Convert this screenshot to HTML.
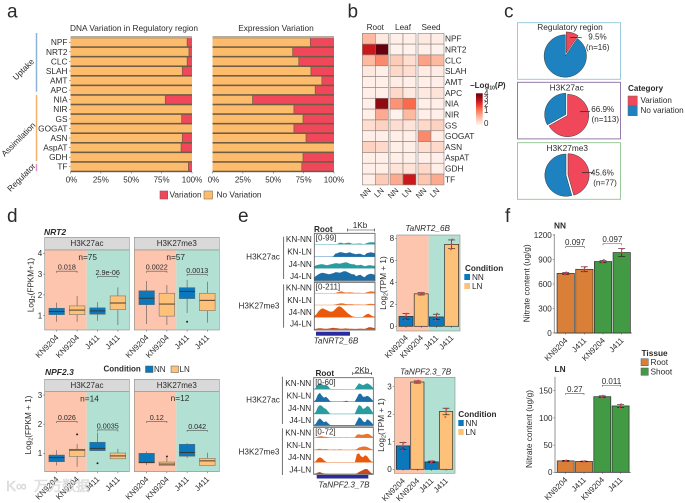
<!DOCTYPE html>
<html lang="en">
<head>
<meta charset="utf-8">
<title>Nitrate gene variation figure</title>
<style>
html,body{margin:0;padding:0;background:#fff;width:685px;height:503px;overflow:hidden}
svg{display:block;font-family:"Liberation Sans","Noto Sans CJK SC",sans-serif;filter:blur(.3px)}
text{fill:#2b2b2b}
</style>
</head>
<body>
<svg id="fig" width="685" height="503" viewBox="0 0 685 503" xmlns="http://www.w3.org/2000/svg">
<defs>
<linearGradient id="cbar" x1="0" y1="1" x2="0" y2="0">
<stop offset="0" stop-color="#fff5f0"/><stop offset=".25" stop-color="#fcbba1"/><stop offset=".5" stop-color="#fb6a4a"/><stop offset=".75" stop-color="#cb181d"/><stop offset="1" stop-color="#67000d"/>
</linearGradient>
</defs>
<g font-size="19">
<text x="7" y="17.5">a</text>
<text x="347.5" y="17.5">b</text>
<text x="504" y="17.5">c</text>
<text x="7" y="222">d</text>
<text x="238" y="222">e</text>
<text x="505" y="222">f</text>
</g>
<g font-size="8.3">
<text x="134" y="31" text-anchor="middle">DNA Variation in Regulatory region</text>
<text x="276" y="31" text-anchor="middle">Expression Variation</text>
<line x1="36.5" y1="33" x2="36.5" y2="91.7" stroke="#8fb3d9" stroke-width="1.5"/>
<line x1="36.5" y1="95" x2="36.5" y2="161" stroke="#f5b06a" stroke-width="1.5"/>
<line x1="36.5" y1="164" x2="36.5" y2="171.3" stroke="#e88fc8" stroke-width="1.5"/>
<text transform="rotate(-45 24 70)" x="24" y="72" text-anchor="middle">Uptake</text>
<text transform="rotate(-45 19 140)" x="19" y="142" text-anchor="middle">Assimilation</text>
<text transform="rotate(-45 22 178)" x="22" y="180" text-anchor="middle">Regulator</text>
<rect x="160" y="191" width="7.7" height="8" fill="#f0485a" stroke="#8a5a50" stroke-width=".6"/>
<text x="169.5" y="197.5">Variation</text>
<rect x="204" y="191" width="8.5" height="8" fill="#fdbb6c" stroke="#8a7050" stroke-width=".6"/>
<text x="216.5" y="197.5">No Variation</text>
</g>
<g>
<text x="470" y="88" font-size="8" font-weight="bold">−Log<tspan font-size="5" dy="1.5">10</tspan><tspan dy="-1.5">(</tspan><tspan font-style="italic">P</tspan>)</text>
<rect x="476" y="93.3" width="6.7" height="31.7" fill="url(#cbar)"/>
</g>
<g font-size="8.1">
<text x="628" y="91" font-weight="bold">Category</text>
<rect x="628" y="96" width="9.3" height="9.7" fill="#f0485a" stroke="#666" stroke-width=".5"/>
<rect x="628" y="106" width="9.3" height="9.7" fill="#1f82c0" stroke="#666" stroke-width=".5"/>
<text x="640.5" y="103">Variation</text>
<text x="640.5" y="113">No variation</text>
</g>
<g>
<text x="44" y="235" font-size="8.5" font-weight="bold" font-style="italic">NRT2</text>
<text x="45" y="375" font-size="8.5" font-weight="bold" font-style="italic">NPF2.3</text>
<text transform="rotate(-90 33.5 285)" x="33.5" y="285" font-size="8.2" text-anchor="middle">Log<tspan font-size="5.5" dy="1.5">2</tspan><tspan dy="-1.5">(FPKM+1)</tspan></text>
<text transform="rotate(-90 31 425)" x="31" y="425" font-size="8.2" text-anchor="middle">Log<tspan font-size="5.5" dy="1.5">2</tspan><tspan dy="-1.5">(FPKM + 1)</tspan></text>
<text x="103.5" y="371.5" font-size="8" font-weight="bold">Condition</text>
<rect x="145.5" y="366" width="7.5" height="6.5" fill="#0b78bd" stroke="#555" stroke-width=".5"/>
<text x="154" y="371.8" font-size="8">NN</text>
<rect x="171" y="366" width="7.5" height="6.5" fill="#fdc17a" stroke="#555" stroke-width=".5"/>
<text x="179.5" y="371.8" font-size="8">LN</text>
</g>
<g font-size="8.2">
<text x="314" y="232" font-weight="bold">Root</text>
<path d="M347.3 228.5v3M347.3 230H374.7M374.7 228.5v3" stroke="#333" fill="none" stroke-width=".6"/>
<text x="360" y="228" text-anchor="middle">1Kb</text>
<line x1="283.7" y1="236.7" x2="283.7" y2="279" stroke="#333" stroke-width=".7"/>
<line x1="283.7" y1="284.3" x2="283.7" y2="327.7" stroke="#333" stroke-width=".7"/>
<text x="263" y="259.5" text-anchor="middle">H3K27ac</text>
<text x="259" y="308.5" text-anchor="middle">H3K27me3</text>
<rect x="316" y="331.7" width="34" height="4" fill="#2b2b9c"/>
<text x="336" y="343.5" text-anchor="middle" font-style="italic">TaNRT2_6B</text>
<text x="427.7" y="231" text-anchor="middle" font-style="italic">TaNRT2_6B</text>
<text transform="rotate(-90 386 283)" x="386" y="283" text-anchor="middle">Log<tspan font-size="5.5" dy="1.5">2</tspan><tspan dy="-1.5">(TPM + 1)</tspan></text>
<text x="465" y="271" font-weight="bold">Condition</text>
<rect x="464.3" y="274" width="5.7" height="6" fill="#0b78bd"/>
<rect x="464.3" y="283" width="5.7" height="6" fill="#fdc17a"/>
<text x="472" y="280">NN</text>
<text x="472" y="289">LN</text>
<text x="315.5" y="376" font-weight="bold">Root</text>
<path d="M352.7 372v3M352.7 373.5H371.7M371.7 372v3" stroke="#333" fill="none" stroke-width=".6"/>
<text x="362" y="373" text-anchor="middle">2Kb</text>
<line x1="282.3" y1="376.7" x2="282.3" y2="424" stroke="#333" stroke-width=".7"/>
<line x1="282.3" y1="428.3" x2="282.3" y2="475" stroke="#333" stroke-width=".7"/>
<text x="263" y="402.5" text-anchor="middle">H3K27ac</text>
<text x="259" y="454.5" text-anchor="middle">H3K27me3</text>
<rect x="316.7" y="475" width="51.6" height="3.5" fill="#2b2b9c"/>
<text x="344" y="487.5" text-anchor="middle" font-style="italic">TaNPF2.3_7B</text>
<text x="425.7" y="374.5" text-anchor="middle" font-style="italic">TaNPF2.3_7B</text>
<text transform="rotate(-90 384 425)" x="384" y="425" text-anchor="middle">Log<tspan font-size="5.5" dy="1.5">2</tspan><tspan dy="-1.5">(TPM + 1)</tspan></text>
<text x="458.3" y="417" font-weight="bold">Condition</text>
<rect x="458.3" y="420" width="5.4" height="6" fill="#0b78bd"/>
<rect x="458.3" y="429" width="5.4" height="6" fill="#fdc17a"/>
<text x="465.5" y="426">NN</text>
<text x="465.5" y="435">LN</text>
</g>
<g font-size="8.3">
<text x="554" y="228.5" font-weight="bold">NN</text>
<text x="554.5" y="372" font-weight="bold">LN</text>
<text transform="rotate(-90 529.5 283.3)" x="529.5" y="283.3" text-anchor="middle">Nitrate content (ug/g)</text>
<text transform="rotate(-90 532 429)" x="532" y="429" text-anchor="middle">Nitrate content (ug/g)</text>
<text x="641.5" y="356" font-weight="bold">Tissue</text>
<rect x="641" y="358.7" width="7.3" height="7" fill="#d97f37" stroke="#555" stroke-width=".5"/>
<rect x="641" y="368" width="7.3" height="7.3" fill="#429b44" stroke="#555" stroke-width=".5"/>
<text x="650.5" y="364.8">Root</text>
<text x="650.5" y="374.3">Shoot</text>
</g>
<g id="charts"></g>
<g opacity=".7">
<text x="6" y="491" font-size="15" style="fill:#ddd;stroke:#aaa;stroke-width:.3">K∞</text>
<text x="34" y="491" font-size="14" style="fill:#e4e4e4;stroke:#aaa;stroke-width:.3">万方数据</text>
</g>
</svg>
<script>
/* ---------- panel a ---------- */
const genes = ['NPF','NRT2','CLC','SLAH','AMT','APC','NIA','NIR','GS','GOGAT','ASN','AspAT','GDH','TF'];
const pctTicks = ['0%','25%','50%','75%','100%'];
const dnaVariation = [4,2.5,4,8,0,0,22,0,8.5,0,8,9,0,3];
const exprVariation = [19.5,34,29,19,10,15.5,67,33,25.5,33,23,0,25.5,26.5];

/* ---------- panel b ---------- */
const facets = ['Root','Leaf','Seed'];
const conditionsShort = ['NN','LN'];
const colorbarTicks = [4,3,2,1,0];
const colorbarTickPos = [4,3.35,2.65,1.85,0.25];
const heatRoot = [[1,.2],[3,4],[1,1.6],[.2,.1],[.1,.1],[.1,.1],[.1,3.6],[.1,1.2],[.4,.6],[.1,.1],[.6,.5],[.1,.1],[.1,.1],[.1,.7]];
const heatLeaf = [[.1,.1],[.05,.05],[.7,.4],[.5,.4],[.15,.1],[.5,.2],[1.5,2],[.05,1],[.4,.3],[.1,.1],[.1,.1],[.1,.1],[.3,.3],[1.2,3]];
const heatSeed = [[.2,.15],[.1,.05],[1.3,1],[.15,.15],[.1,.1],[.2,.3],[.1,.1],[.1,.1],[.5,.6],[1.6,.1],[.4,.5],[.1,.1],[.5,.1],[.8,1.2]];

/* ---------- panel c ---------- */
const pieTitles = ['Regulatory region','H3K27ac','H3K27me3'];
const pieVariationPct = [9.5,66.9,45.6];
const pieCounts = [16,113,77];

/* ---------- panel d : [whiskerLow, q1, median, q3, whiskerHigh, outliers] ---------- */
const boxLabels = ['KN9204','KN9204','J411','J411'];
const nrt2Ticks = [1,2,3,4];
const npfTicks = [1,2,3];
const boxNrt2Ac = [[.71,1.05,1.2,1.36,1.62,[]],[.71,1.05,1.27,1.47,1.95,[]],[.75,1.07,1.23,1.38,1.65,[]],[.55,1.29,1.61,1.95,2.36,[]]];
const boxNrt2Me = [[.6,1.53,1.84,2.2,2.67,[]],[.55,.98,1.56,2.08,2.47,[]],[1.13,1.82,2.17,2.35,2.72,[.71]],[.66,1.24,1.74,2.08,2.63,[]]];
const boxNpfAc = [[.58,.71,.85,.94,1.11,[]],[.54,.89,1.11,1.14,1.32,[1.65]],[1.09,1.09,1.17,1.38,1.71,[.66]],[.81,.81,.91,1.01,1.15,[]]];
const boxNpfMe = [[.6,.67,.69,1,1.06,[]],[.58,.58,.63,.7,.83,[.89]],[.84,.9,1.03,1.31,1.35,[]],[.58,.58,.74,.83,1.02,[]]];
const pNrt2Ac = [['0.018',0,1,3.14],['2.9e-06',2,3,2.88]];
const pNrt2Me = [['0.0022',0,1,3.14],['0.0013',2,3,2.98]];
const pNpfAc = [['0.026',0,1,2.09],['0.0035',2,3,1.8]];
const pNpfMe = [['0.12',0,1,2.09],['0.042',2,3,1.79]];

/* ---------- panel e ---------- */
const trackNames = ['KN-NN','KN-LN','J4-NN','J4-LN'];
const upAc = [
[0,0,0,0,0,0,0,0,0,0,0,.3,1.5,1.5,.8,1.2,1.5,1.5,.6,.5,.5,.8,.8,.4,.3,1.2,1.8,2,2,1.6],
[0,0,0,0,0,0,0,0,0,.2,3,3.5,4.5,4.5,4,3.5,4,4.5,3.5,3,2.5,3,3,2,1.5,3.5,4,4.5,4,3.5],
[2,3,3.5,4,4,3.5,3,3.5,4,4.5,5,5,4.5,5,5.5,6,5.5,4.5,4,4,3,3,3.5,3,2,2.5,3,3,2.5,2.5],
[3,4.5,6,7,7.5,7,6.5,6,6.5,7,8,8,7.5,8,9,9,8,7,6,6,4,5,5.5,4,3,5,6,6.5,6,5.5]];
const upMe = [
[0,0,0,0,0,0,0,0,0,0,.2,1,1.5,2,1.2,.8,.8,1,.8,.5,.4,.5,.4,.3,.3,1,1.5,2,1.8,1.5],
[0,0,0,0,0,0,0,0,0,0,.5,1,1.5,1.8,1.5,1,.8,.8,.7,.5,.4,.5,.4,.3,.3,.6,1,1.2,1,.8],
[1,3,6,8,9,8,7,6,5.5,6,8,10,11,10,8,6,4,2.5,1,.5,.3,.3,.3,.3,1.5,3,3.5,2,1,.5],
[.3,.5,1,1,.8,.6,.5,.8,1.2,1.5,1.2,1,.7,.6,.7,.9,.7,.5,.5,.4,.4,.5,.7,.5,.4,1,2,2,1.5,1]];
const lowAc = [
[0,1.5,5,6,5,4,4.5,3,.5,.2,.2,.2,.3,.2,.2,.2,.2,.2,.2,.2,.2,3,6,5,4,5,6,5,3.5,1],
[0,2,7,9,6,4,5,3,.5,.2,.2,.2,.2,.2,.2,.5,1,.2,.2,.2,.2,4,8,8,5,5,6,5,3,.5],
[0,2,7,9,8,6,5,2.5,.3,.1,.1,.1,.1,.1,.1,.1,.1,.1,.1,.2,.2,5,9,8,5,6,8,7,4,.5],
[0,1.5,5,7,5,3,4,2,.3,.1,.1,.1,.2,.1,.1,.1,.1,.1,.1,.1,.2,4,8,7,4,3,6,5,3,.5]];
const lowMe = [
[0,.3,1,1.5,1.5,1,.8,.5,.3,.2,.3,.2,.2,.3,.2,.2,.3,.2,.2,.2,.3,3,3.5,3,3,3.5,4,3.5,2,.5],
[0,.5,1,1.2,.8,.8,1,.5,.3,.2,.6,.3,.5,.8,.2,.2,.2,.2,.2,.2,.2,1,2.5,3,3.5,3.5,3,2,1,.3],
[0,1,4,5,4,2,.5,.2,.1,.1,.1,.1,.1,.1,.1,.1,.1,.1,.1,.1,.1,8,9,6,5,7,6,3,1,.2],
[0,.5,1.5,2,1,.5,.2,.1,.1,.1,.1,.1,.1,.1,.1,.1,.1,.1,.1,.1,.1,.5,2,3,4,5,5,3,1,.2]];
const tpmNrtValues = [.9,2.95,.85,7.45];
const tpmNrtErr = [.25,.1,.25,.4];
const tpmNrtPoints = [[.6,.9,1.15],[2.85,2.95,3.05],[.55,.85,1.15],[7,7.45,7.9]];
const tpmNrtTicks = [0,2,4,6,8];
const tpmNpfValues = [.85,3.17,.27,2.1];
const tpmNpfErr = [.12,.04,.03,.12];
const tpmNpfPoints = [[.7,.85,.97],[3.13,3.17,3.22],[.25,.27,.3],[1.9,2.1,2.2]];
const tpmNpfTicks = [0,1,2,3];

/* ---------- panel f ---------- */
const nitrateLabels = ['KN9204','J411','KN9204','J411'];
const nitrateNN = [730,780,875,985];
const nitrateNNErr = [12,30,15,50];
const nitrateNNPoints = [[715,730,742],[755,780,810],[860,875,895],[925,985,1030]];
const nitrateNNTicks = [0,300,600,900,1200];
const nitrateLN = [21,20,139,122];
const nitrateLNErr = [1,.7,1.5,3];
const nitrateLNPoints = [[20,21,22],[19.5,20,20.5],[137,139,141],[118,122,125]];
const nitrateLNTicks = [0,50,100,150];
const pNitrateNN = [['0.097',0,1,1057],['0.097',2,3,1093]];
const pNitrateLN = [['0.27',0,1,145],['0.011',2,3,160]];

/* ---------- helpers ---------- */
const SVG_NS = 'http://www.w3.org/2000/svg';
const charts = document.getElementById('charts');
function mk(tag, attrs, parent) {
  const el = document.createElementNS(SVG_NS, tag);
  for (const k in attrs) el.setAttribute(k, attrs[k]);
  (parent || charts).appendChild(el);
  return el;
}
function grp(name) {
  const el = mk('g', {});
  
  
  return el;
}
function txt(parent, name, x, y, s, size, anchor, rot) {
  const el = mk('text', {x: x, y: y, 'font-size': size, 'text-anchor': anchor || 'start'}, parent);
  if (rot) el.setAttribute('transform', 'rotate(' + rot + ' ' + x + ' ' + y + ')');
  
  
  el.textContent = s;
  return el;
}
function rect(parent, name, x, y, w, h, fill, stroke, sw) {
  const el = mk('rect', {x: x, y: y, width: Math.max(w, 0), height: Math.max(h, 0), fill: fill, stroke: stroke || 'none', 'stroke-width': sw || 0}, parent);
  
  
  return el;
}
function line(parent, name, x1, y1, x2, y2, stroke, sw) {
  const el = mk('line', {x1: x1, y1: y1, x2: x2, y2: y2, stroke: stroke, 'stroke-width': sw}, parent);
  
  
  return el;
}
function linear(d0, d1, r0, r1) { return v => r0 + (v - d0) * (r1 - r0) / (d1 - d0); }
function bracket(parent, x1, x2, y, label, size) {
  const el = mk('path', {d: 'M' + x1 + ' ' + (y + 1.5) + 'V' + y + 'H' + x2 + 'V' + (y + 1.5), fill: 'none', stroke: '#555', 'stroke-width': .6}, parent);
  
  
  txt(parent, 'p-value-label', (x1 + x2) / 2, y - 1.5, label, size || 7.2, 'middle');
}

/* ---------- draw panel a ---------- */
function stacked(name, values, x0, x1, showGenes) {
  const g = grp(name);
  const px = linear(0, 100, x0, x1);
  const rowY = i => 38.3 + i * 9.57;
  rect(g, 'panel-backdrop', x0, 36, x1 - x0, 136, '#6f5c45');
  rect(g, 'panel-top-strip', x0, 36, x1 - x0, 2.2, '#b3aca2');
  values.forEach((v, i) => {
    const split = px(100 - v);
    rect(g, 'bar-no-variation-' + genes[i], x0, rowY(i), split - x0, 8, '#fdbb6c');
    rect(g, 'bar-variation-' + genes[i], split, rowY(i), x1 - split, 8, '#f0485a');
    if (v > 0) line(g, 'bar-split', split, rowY(i), split, rowY(i) + 8, '#6f5c45', .7);
    if (showGenes) {
      txt(g, 'gene-label-' + genes[i], x0 - 3, rowY(i) + 6.9, genes[i], 8.3, 'end');
      line(g, 'gene-tick', x0 - 1.5, rowY(i) + 4, x0, rowY(i) + 4, '#444', .5);
    }
  });
  line(g, 'x-axis', x0, 172, x1, 172, '#555', .4);
  pctTicks.forEach((t, i) => {
    const xv = px(i * 25);
    line(g, 'x-tick', xv, 172, xv, 173.5, '#444', .5);
    txt(g, 'x-tick-label', xv + (i === 0 ? 1 : 0), 182.3, t, 8, 'middle');
  });
}
stacked('dna-variation-chart', dnaVariation, 70.5, 192, true);
stacked('expression-variation-chart', exprVariation, 212.5, 334, false);

/* ---------- draw panel b ---------- */
function heatColor(v) {
  const stops = [[255,245,240],[252,187,161],[251,106,74],[203,24,29],[103,0,13]];
  const t = Math.min(Math.max(v, 0), 4);
  const i = Math.min(Math.floor(t), 3), f = t - i;
  const c = stops[i].map((s, k) => Math.round(s + (stops[i + 1][k] - s) * f));
  return 'rgb(' + c.join(',') + ')';
}
const heatData = [heatRoot, heatLeaf, heatSeed];
const heatX0 = [362.3, 390, 418];
const heatCellW = 13;
const heatTop = 33.3;
const heatCellH = 10.83;
(function () {
  const g = grp('heatmap');
  heatData.forEach((facet, fi) => {
    const fx = heatX0[fi];
    txt(g, 'facet-label-' + facets[fi], fx + heatCellW, 30, facets[fi], 8.2, 'middle');
    facet.forEach((row, r) => {
      row.forEach((val, c) => {
        rect(g, 'heat-cell', fx + c * heatCellW, heatTop + r * heatCellH, heatCellW, heatCellH, heatColor(val), '#8d817c', .6);
      });
    });
    conditionsShort.forEach((cn, c) => {
      const cx = fx + (c + .5) * heatCellW + 2.5;
      txt(g, 'condition-label', cx, 191, cn, 7.8, 'end', -45);
    });
  });
  genes.forEach((gn, r) => {
    txt(g, 'heat-row-label-' + gn, 445, heatTop + (r + .5) * heatCellH + 2.9, gn, 8.3, 'start');
  });
  const cb = linear(0, 4, 125, 93.3);
  colorbarTicks.forEach((t, i) => {
    txt(g, 'colorbar-tick-label', 484, cb(colorbarTickPos[i]) + 2.8, t, 8, 'start');
  });
})();

/* ---------- draw panel c ---------- */
const pieBoxY = [22.7, 82.3, 142.7];
const pieBoxColor = ['#8fc7dc', '#8a6da3', '#90c490'];
const pieCx = [565.3, 566.7, 567];
const pieCy = [56, 115, 175];
const pieTitleXY = [[570, 30], [566.7, 90.5], [567.3, 151]];
const pieLineXY = [[570, 581.7, 37.7], [580, 590, 111.7], [582, 593, 172.7]];
const pieValXY = [[597.5, 39.5], [602.7, 112], [602.3, 175.5]];
const pieNXY = [[597.7, 50], [605.3, 122], [605, 185.5]];
function sector(parent, name, cx, cy, r, a0, a1, fill) {
  const p = a => [cx + r * Math.sin(a * 2 * Math.PI), cy - r * Math.cos(a * 2 * Math.PI)];
  const s = p(a0), e = p(a1);
  const el = mk('path', {d: 'M' + cx + ' ' + cy + 'L' + s[0] + ' ' + s[1] + 'A' + r + ' ' + r + ' 0 ' + ((a1 - a0) > .5 ? 1 : 0) + ' 1 ' + e[0] + ' ' + e[1] + 'Z', fill: fill, stroke: '#3a3a3a', 'stroke-width': .5}, parent);
  
  
}
pieTitles.forEach((t, i) => {
  const g = grp('pie-' + t.toLowerCase().replace(/\s+/g, '-'));
  rect(g, 'pie-frame', 517.5, pieBoxY[i], 103, 56.6, 'none', pieBoxColor[i], .9);
  txt(g, 'pie-title', pieTitleXY[i][0], pieTitleXY[i][1], t, 8.3, 'middle');
  const frac = pieVariationPct[i] / 100;
  const mid = frac / 2 * 2 * Math.PI;
  const off = 1;
  sector(g, 'slice-no-variation', pieCx[i] - Math.sin(mid) * (i === 0 ? 0 : off), pieCy[i] + Math.cos(mid) * (i === 0 ? 0 : off), 21.2, frac, 1, '#1f82c0');
  sector(g, 'slice-variation', pieCx[i] + Math.sin(mid) * (i === 0 ? 3 : off), pieCy[i] - Math.cos(mid) * (i === 0 ? 3 : off), 21.2, 0, frac, '#f0485a');
  line(g, 'pie-leader', pieLineXY[i][0], pieLineXY[i][2], pieLineXY[i][1], pieLineXY[i][2], '#222', .7);
  txt(g, 'pie-percent', pieValXY[i][0], pieValXY[i][1], pieVariationPct[i].toFixed(1) + '%', 8.1, 'middle');
  txt(g, 'pie-count', pieNXY[i][0], pieNXY[i][1], '(n=' + pieCounts[i] + ')', 8.1, 'middle');
});

/* ---------- draw panel d ---------- */
function boxPanel(name, stats, pvals, opt) {
  const g = grp(name);
  const {x0, x1, split, top, strip, bottom, y, xs, title, n, nx, ny, yTicks} = opt;
  rect(g, 'facet-strip', x0, top, x1 - x0, strip - top, '#d9d9d9', '#8e8e8e', .6);
  txt(g, 'facet-label', (x0 + x1) / 2, top + 8.9, title, 8, 'middle');
  rect(g, 'bg-knn', x0, strip, split - x0, bottom - strip, '#fdc4ae');
  rect(g, 'bg-j411', split, strip, x1 - split, bottom - strip, '#b2e0d2');
  rect(g, 'panel-border', x0, strip, x1 - x0, bottom - strip, 'none', '#8a9088', .6);
  if (yTicks) {
    yTicks.forEach(t => {
      line(g, 'y-tick', x0 - 1.5, y(t), x0, y(t), '#444', .5);
      txt(g, 'y-tick-label', x0 - 2.5, y(t) + 2.9, t, 8, 'end');
    });
  }
  stats.forEach((s, i) => {
    const cx = xs(i);
    const isNN = i % 2 === 0;
    line(g, 'whisker', cx, y(s[0]), cx, y(s[4]), '#555', .6);
    rect(g, 'box-' + boxLabels[i] + (isNN ? '-nn' : '-ln'), cx - 7.8, y(s[3]), 15.6, y(s[1]) - y(s[3]), isNN ? '#0b78bd' : '#fdc17a', '#5f6a6e', .5);
    line(g, 'median', cx - 7.8, y(s[2]), cx + 7.8, y(s[2]), '#3a3026', .9);
    s[5].forEach(o => {
      const c = mk('circle', {cx: cx, cy: y(o), r: 1, fill: '#222'}, g);
      
      
    });
    line(g, 'x-tick', cx, bottom, cx, bottom + 1.5, '#444', .5);
    txt(g, 'x-tick-label', cx + 2.5, bottom + 8, boxLabels[i], 8, 'end', -45);
  });
  pvals.forEach(p => bracket(g, xs(p[1]), xs(p[2]), y(p[3]), p[0]));
  txt(g, 'n-label', nx, ny, n, 8.3, 'middle');
}
const yNrt = linear(1, 4, 315.7, 253.3);
const yNpf = linear(1, 3, 453.3, 395);
const xsLeft = i => 56.7 + i * 20.4;
const xsRight = i => 146.7 + i * 20.2;
boxPanel('nrt2-h3k27ac-box-chart', boxNrt2Ac, pNrt2Ac, {x0: 44.7, x1: 129.3, split: 86.7, top: 237.3, strip: 250, bottom: 330, y: yNrt, xs: xsLeft, title: 'H3K27ac', n: 'n=75', nx: 87.7, ny: 260, yTicks: nrt2Ticks});
boxPanel('nrt2-h3k27me3-box-chart', boxNrt2Me, pNrt2Me, {x0: 134.3, x1: 219.3, split: 176.3, top: 237.3, strip: 250, bottom: 330, y: yNrt, xs: xsRight, title: 'H3K27me3', n: 'n=57', nx: 175.7, ny: 260});
boxPanel('npf23-h3k27ac-box-chart', boxNpfAc, pNpfAc, {x0: 44.7, x1: 129.3, split: 86.7, top: 379.3, strip: 391.7, bottom: 471.7, y: yNpf, xs: xsLeft, title: 'H3K27ac', n: 'n=14', nx: 89.5, ny: 401.5, yTicks: npfTicks});
boxPanel('npf23-h3k27me3-box-chart', boxNpfMe, pNpfMe, {x0: 134.3, x1: 219.3, split: 176.3, top: 379.3, strip: 391.7, bottom: 471.7, y: yNpf, xs: xsRight, title: 'H3K27me3', n: 'n=12', nx: 180, ny: 401});

/* ---------- draw panel e tracks ---------- */
function tracks(name, data, x0, x1, top, bottom, baselines, colors, range, labelYs) {
  const g = grp(name);
  const px = linear(0, data[0].length - 1, x0, x1);
  rect(g, 'track-frame-fill', x0, top, x1 - x0, bottom - top, '#fff');
  data.forEach((sig, t) => {
    const b = baselines[t];
    line(g, 'track-baseline', x0, b, x1, b, colors[t], .4);
    let d = 'M' + x0 + ' ' + b;
    sig.forEach((v, i) => { d += 'L' + px(i).toFixed(2) + ' ' + (b - v).toFixed(2); });
    d += 'L' + x1 + ' ' + b + 'Z';
    const a = mk('path', {d: d, fill: colors[t]}, g);
    
    
    txt(g, 'track-label-' + trackNames[t], x0 - 2.5, labelYs[t] + 2.9, trackNames[t], 8.2, 'end');
  });
  rect(g, 'track-frame', x0, top, x1 - x0, bottom - top, 'none', '#555', .8);
  txt(g, 'track-range', x0 + 1.5, top + 7.4, range, 8, 'start');
}
tracks('nrt2-h3k27ac-tracks', upAc, 314.3, 375, 233.3, 281, [244.3, 256.7, 268.3, 280.3], ['#2a9ca0', '#1d6ea6', '#2a9ca0', '#1d6ea6'], '[0-99]', [239.3, 251.7, 264, 276]);
tracks('nrt2-h3k27me3-tracks', upMe, 314.3, 375, 282.3, 330, [293.3, 305, 317.3, 329.3], ['#e9752f', '#e9752f', '#ea5a0c', '#c94a1c'], '[0-211]', [287.7, 300.3, 312.3, 323.7]);
tracks('npf23-h3k27ac-tracks', lowAc, 313.7, 373.3, 377.7, 426, [389.3, 401.7, 414, 425.3], ['#2a9ca0', '#1d6ea6', '#2a9ca0', '#1d6ea6'], '[0-60]', [383.3, 395.7, 408, 420.3]);
tracks('npf23-h3k27me3-tracks', lowMe, 313.7, 373.3, 427.3, 474.3, [437.7, 450, 462.3, 474], ['#e9752f', '#e9752f', '#ea5a0c', '#c94a1c'], '[0-72]', [432.7, 445, 457.3, 469.7]);

/* ---------- bar charts (panel e & f) ---------- */
function barChart(name, values, errs, points, labels, opt) {
  const g = grp(name);
  const {y, xs, w, ticks, colors, base, left, axisTop, right} = opt;
  if (opt.split) {
    rect(g, 'bg-knn', left, opt.top, opt.split - left, opt.bottom - opt.top, '#fdc4ae');
    rect(g, 'bg-j411', opt.split, opt.top, right - opt.split, opt.bottom - opt.top, '#b2e0d2');
    rect(g, 'panel-border', left, opt.top, right - left, opt.bottom - opt.top, 'none', '#8a9088', .6);
  } else {
    line(g, 'y-axis', left, axisTop, left, base, '#8a8a8a', .9);
    line(g, 'x-axis', left, base, right, base, '#333', .7);
  }
  ticks.forEach(t => {
    line(g, 'y-tick', left - 1.5, y(t), left, y(t), '#444', .5);
    txt(g, 'y-tick-label', left - 2.5, y(t) + 2.9, t, 8.1, 'end');
  });
  values.forEach((v, i) => {
    const cx = xs(i);
    rect(g, 'bar-' + labels[i], cx - w / 2, y(v), w, base - y(v), colors[i], '#2f2f2f', .7);
    const capW = 3.5;
    line(g, 'error-bar', cx, y(v + errs[i]), cx, y(v - errs[i]), '#111', .6);
    line(g, 'error-cap-top', cx - capW, y(v + errs[i]), cx + capW, y(v + errs[i]), '#111', .6);
    line(g, 'error-cap-bottom', cx - capW, y(v - errs[i]), cx + capW, y(v - errs[i]), '#111', .6);
    points[i].forEach((p, k) => {
      const c = mk('circle', {cx: cx + (k - 1) * .7, cy: y(p), r: 1, fill: '#e8384f', opacity: .85}, g);
      
      
    });
    line(g, 'x-tick', cx, base, cx, base + 1.5, '#444', .5);
    txt(g, 'x-tick-label', cx + 2.5, base + (opt.labelGap || 7.5), labels[i], 8, 'end', -45);
  });
  if (opt.pvals) opt.pvals.forEach(p => bracket(g, xs(p[1]), xs(p[2]), y(p[3]), p[0], 8));
}
const condColors = ['#0b78bd', '#fdc17a', '#0b78bd', '#fdc17a'];
const tissueColors = ['#d97f37', '#d97f37', '#429b44', '#429b44'];
barChart('tanrt2-tpm-bar-chart', tpmNrtValues, tpmNrtErr, tpmNrtPoints, boxLabels, {
  y: linear(0, 8, 326.3, 238.3), xs: i => 406 + i * 15.2, w: 14, ticks: tpmNrtTicks, colors: condColors, base: 326.3,
  left: 396.7, right: 460, split: 428.7, top: 235, bottom: 331, labelGap: 12});
barChart('tanpf23-tpm-bar-chart', tpmNpfValues, tpmNpfErr, tpmNpfPoints, boxLabels, {
  y: linear(0, 3, 469.3, 386.7), xs: i => 403 + i * 14.35, w: 13.3, ticks: tpmNpfTicks, colors: condColors, base: 469.3,
  left: 394.3, right: 455, split: 424.3, top: 377.3, bottom: 473.3, labelGap: 12});
barChart('nitrate-nn-bar-chart', nitrateNN, nitrateNNErr, nitrateNNPoints, nitrateLabels, {
  y: linear(0, 1200, 333, 235), xs: i => 565.7 + i * 18.67, w: 17.3, ticks: nitrateNNTicks, colors: tissueColors, base: 333,
  left: 554.3, right: 631.7, axisTop: 234, pvals: pNitrateNN, labelGap: 8});
barChart('nitrate-ln-bar-chart', nitrateLN, nitrateLNErr, nitrateLNPoints, nitrateLabels, {
  y: linear(0, 150, 472.3, 390.7), xs: i => 565.7 + i * 18.3, w: 17, ticks: nitrateLNTicks, colors: tissueColors, base: 472.3,
  left: 555, right: 630.7, axisTop: 376.7, pvals: pNitrateLN, labelGap: 8});
</script>
</body>
</html>
